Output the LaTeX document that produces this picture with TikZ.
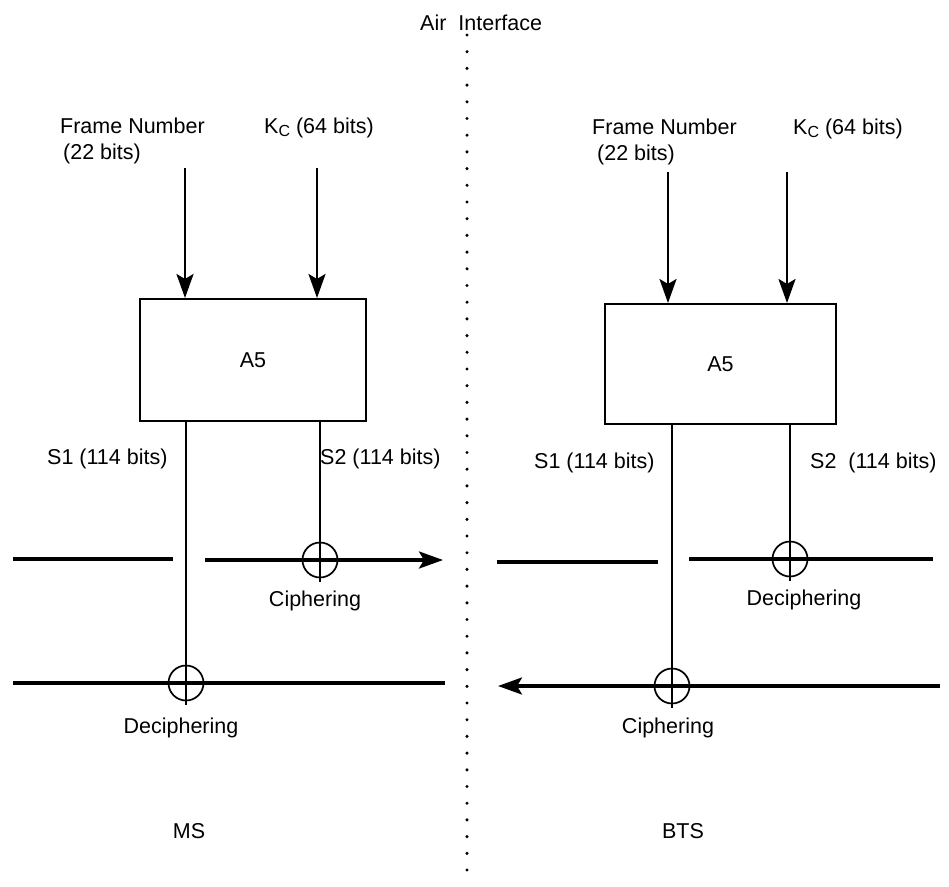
\documentclass[tikz,border=0pt]{standalone}
\usepackage{fontspec}
\setmainfont{Liberation Sans}
\usetikzlibrary{arrows.meta,calc}
\newcommand{\kcsub}{K\raisebox{-0.35ex}{\fontsize{16}{16}\selectfont C}}
\begin{document}
\begin{tikzpicture}[x=1pt,y=-1pt,
  lbl/.style={inner sep=0pt,font=\fontsize{21.5}{26}\selectfont},
  blk/.style={draw,line width=2pt,inner sep=0pt,font=\fontsize{21.5}{26}\selectfont},
  xorc/.style={circle,draw,line width=1.7pt,minimum size=35pt,inner sep=0pt},
  sig/.style={line width=2.6pt},
  hsig/.style={line width=3.3pt},
  tip/.style={-{Stealth[length=24pt,width=17pt,inset=5pt]}},
  dotline/.style={line width=3.4pt,line cap=round,dash pattern=on 0pt off 16.7pt}]
\useasboundingbox (0,0) rectangle (949,886);
% air interface
\node[lbl,anchor=base west] (air) at (420,30) {Air\ \ Interface};
\coordinate (dtop) at (467,35);
\coordinate (dbot) at (467,886);
\draw[dotline] (dtop) -- (dbot);
% ---------------- MS side ----------------
\node[lbl,anchor=north west,align=left] (fnL) at (60,118) {Frame Number\\\hspace*{3pt}(22 bits)};
\node[lbl,anchor=base west] (kcL) at (264,133) {\kcsub\ (64 bits)};
\node[blk,minimum width=226pt,minimum height=122pt] (boxL) at (253,360) {A5};
\coordinate (tL1) at (185,168);
\coordinate (tL2) at (317,168);
\draw[sig,tip] (tL1) -- (tL1 |- boxL.north);
\draw[sig,tip] (tL2) -- (tL2 |- boxL.north);
\node[xorc] (xL2) at (320,560) {};
\node[xorc] (xL1) at (186,683) {};
\draw[sig] (boxL.south -| xL1) -- ($(xL1.south)+(0,4)$);
\draw[sig] (boxL.south -| xL2) -- ($(xL2.south)+(0,4)$);
\coordinate (uL1) at (13,559);
\coordinate (uL2) at (173,559);
\coordinate (uL3) at (205,560);
\coordinate (uL4) at (443,560);
\draw[hsig] (uL1) -- (uL2);
\draw[hsig,tip] (uL3) -- (xL2.center) -- (uL4);
\coordinate (lL1) at (13,683);
\coordinate (lL2) at (445,683);
\draw[hsig] (lL1) -- (xL1.center) -- (lL2);
\node[lbl,anchor=base west] (s1L) at (47,464) {S1 (114 bits)};
\node[lbl,anchor=base west] (s2L) at (320,464) {S2 (114 bits)};
\node[lbl,anchor=base] (ciL) at (315,606) {Ciphering};
\node[lbl,anchor=base] (deL) at (181,733) {Deciphering};
\node[lbl,anchor=base] (ms) at (189,838) {MS};
% ---------------- BTS side ----------------
\node[lbl,anchor=north west,align=left] (fnR) at (592,119) {Frame Number\\\hspace*{5pt}(22 bits)};
\node[lbl,anchor=base west] (kcR) at (793,134) {\kcsub\ (64 bits)};
\node[blk,minimum width=231pt,minimum height=120pt] (boxR) at (720.5,364) {A5};
\coordinate (tR1) at (668,172);
\coordinate (tR2) at (787,172);
\draw[sig,tip] (tR1) -- (tR1 |- boxR.north);
\draw[sig,tip] (tR2) -- (tR2 |- boxR.north);
\node[xorc] (xR2) at (790,559) {};
\node[xorc] (xR1) at (672,686) {};
\draw[sig] (boxR.south -| xR1) -- ($(xR1.south)+(0,4)$);
\draw[sig] (boxR.south -| xR2) -- ($(xR2.south)+(0,4)$);
\coordinate (uR1) at (497,562);
\coordinate (uR2) at (658,562);
\coordinate (uR3) at (689,559);
\coordinate (uR4) at (933,559);
\draw[hsig] (uR1) -- (uR2);
\draw[hsig] (uR3) -- (xR2.center) -- (uR4);
\coordinate (lR1) at (940,686);
\coordinate (lR2) at (498,686);
\draw[hsig,tip] (lR1) -- (xR1.center) -- (lR2);
\node[lbl,anchor=base west] (s1R) at (534,468) {S1 (114 bits)};
\node[lbl,anchor=base west] (s2R) at (810,468) {S2\ \ (114 bits)};
\node[lbl,anchor=base] (deR) at (804,605) {Deciphering};
\node[lbl,anchor=base] (ciR) at (668,733) {Ciphering};
\node[lbl,anchor=base] (bts) at (683,838) {BTS};
\end{tikzpicture}
\end{document}
